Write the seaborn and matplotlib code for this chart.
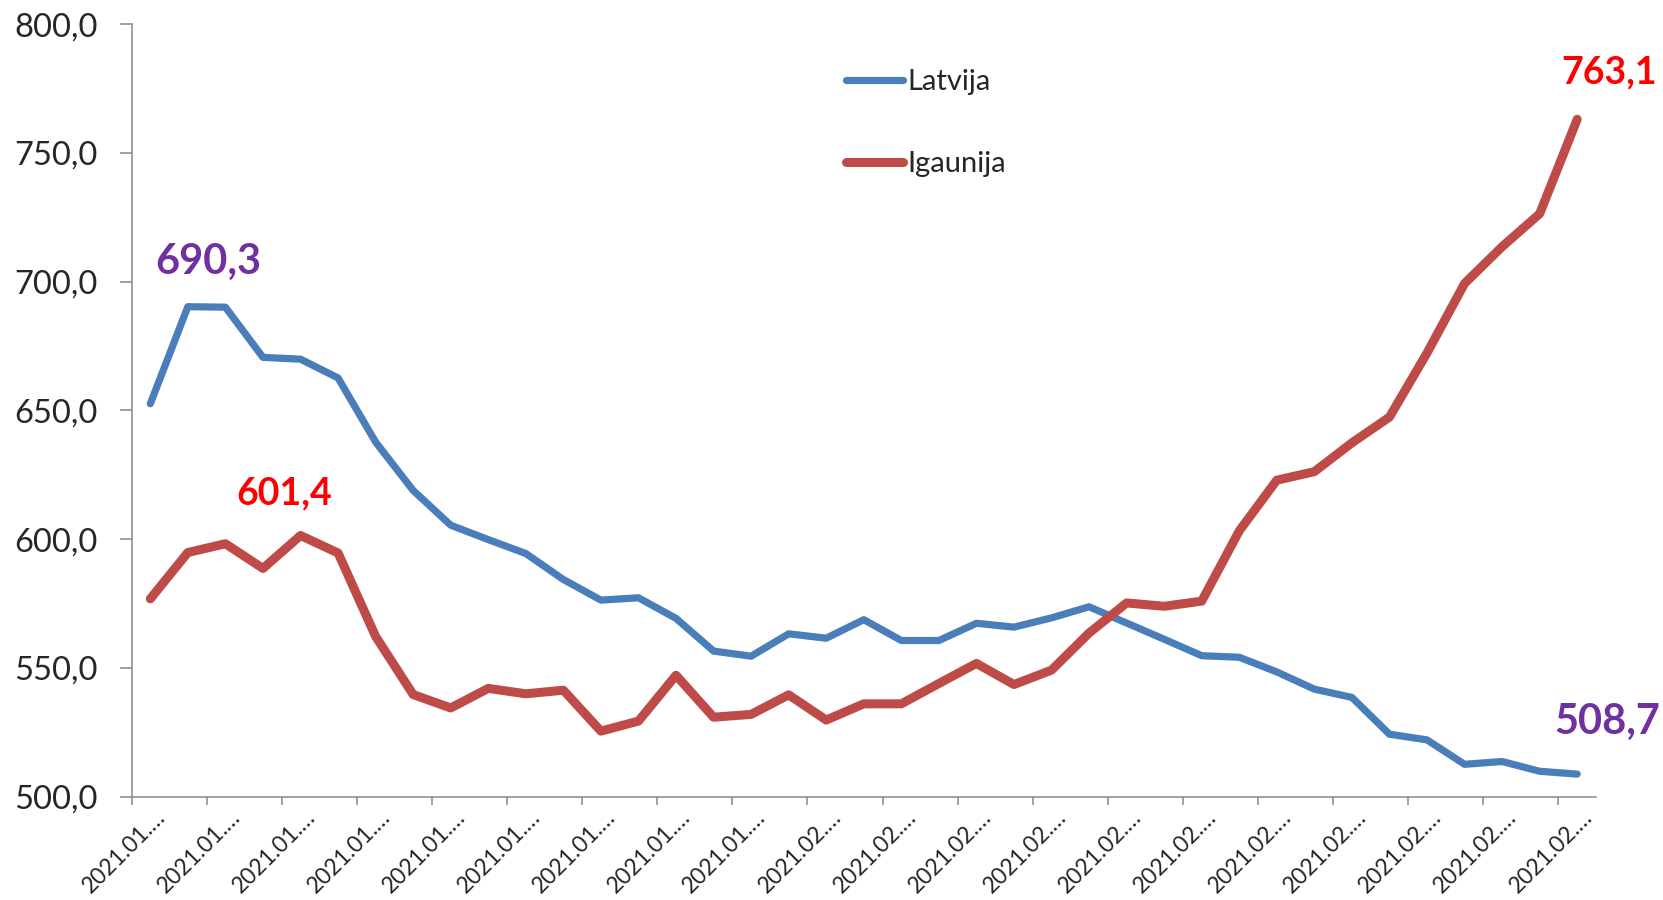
import numpy as np
import pandas as pd
import seaborn as sns
import matplotlib.pyplot as plt

# 14 dienu kumulatīvie rādītāji (39 dienas)
latvija = [652.6, 690.3, 690.1, 670.6, 669.9, 662.6, 637.7, 618.9, 605.4, 599.8,
           594.4, 584.3, 576.3, 577.2, 569.2, 556.5, 554.5, 563.2, 561.5, 568.7,
           560.6, 560.6, 567.3, 565.8, 569.4, 573.7, 567.4, 561.1, 554.7, 554.1,
           548.4, 541.7, 538.5, 524.2, 522.0, 512.5, 513.6, 509.8, 508.7]
igaunija = [576.8, 594.8, 598.2, 588.6, 601.4, 594.6, 562.2, 539.6, 534.4, 542.0,
            539.9, 541.3, 525.4, 529.3, 547.1, 530.8, 531.9, 539.5, 529.7, 536.0,
            536.0, 543.9, 551.7, 543.5, 549.1, 563.5, 575.2, 573.9, 575.9, 603.2,
            622.9, 626.2, 637.4, 647.4, 672.3, 699.3, 713.6, 726.4, 763.1]
tick_labels = ['2021.01.…'] * 9 + ['2021.02.…'] * 11
y_ticks = [500, 550, 600, 650, 700, 750, 800]

df = pd.DataFrame({'Diena': range(len(latvija)), 'Latvija': latvija, 'Igaunija': igaunija})

sns.set_style('white')
plt.rcParams['font.family'] = ['Lato', 'DejaVu Sans']

fig = plt.figure(figsize=(16.63, 9), dpi=100)
ax = fig.add_axes([0.0791, 0.115, 0.8806, 0.858])

blue = '#4A7EBB'
red = '#BE4B48'
sns.lineplot(x='Diena', y='Latvija', data=df, color=blue, linewidth=5.2,
             label='Latvija', ax=ax, solid_capstyle='round', solid_joinstyle='round')
sns.lineplot(x='Diena', y='Igaunija', data=df, color=red, linewidth=6.5,
             label='Igaunija', ax=ax, solid_capstyle='round', solid_joinstyle='round')

ax.set_xlim(-0.5, len(latvija) - 0.5)
ax.set_ylim(500, 800)
ax.set_xlabel('')
ax.set_ylabel('')

# y ass
ax.set_yticks(y_ticks)
ax.set_yticklabels([f'{v:.1f}'.replace('.', ',') for v in y_ticks])
ax.tick_params(axis='y', left=True, length=8.5, width=1.1, color='#878787',
               pad=16, labelsize=23.5)

# x ass: etiķetes katrai otrajai dienai, iedaļas starp kategorijām
ax.set_xticks(np.arange(0.5, len(latvija), 2))
ax.set_xticklabels(tick_labels, rotation=45, ha='right', fontsize=16.5)
ax.set_xticks(np.arange(-0.5, len(latvija) - 1, 2), minor=True)
ax.tick_params(axis='x', which='major', bottom=True, length=0, pad=7)
ax.tick_params(axis='x', which='minor', bottom=True, length=6, width=1.1,
               color='#878787', direction='out')

for side in ['top', 'right']:
    ax.spines[side].set_visible(False)
for side in ['left', 'bottom']:
    ax.spines[side].set_color('#878787')
    ax.spines[side].set_linewidth(1.1)

# vērtību uzraksti
ax.annotate('690,3', xy=(1, latvija[1]), xytext=(20, 45), textcoords='offset pixels',
            ha='center', va='center', fontsize=30, fontweight='bold', color='#7030A0')
ax.annotate('601,4', xy=(4, igaunija[4]), xytext=(-16, 42), textcoords='offset pixels',
            ha='center', va='center', fontsize=27, fontweight='bold', color='#FF0000')
ax.annotate('763,1', xy=(38, igaunija[38]), xytext=(32, 47), textcoords='offset pixels',
            ha='center', va='center', fontsize=27, fontweight='bold', color='#FF0000',
            annotation_clip=False)
ax.annotate('508,7', xy=(38, latvija[38]), xytext=(30, 52), textcoords='offset pixels',
            ha='center', va='center', fontsize=30, fontweight='bold', color='#7030A0',
            annotation_clip=False)

ax.legend(loc='upper left', bbox_to_anchor=(846 / 1663, 1 - 69 / 900),
          bbox_transform=fig.transFigure, frameon=False, fontsize=21,
          borderpad=0, borderaxespad=0, handlelength=1.95, handletextpad=0.15,
          labelspacing=1.92)

plt.savefig('out.png', dpi=100)
